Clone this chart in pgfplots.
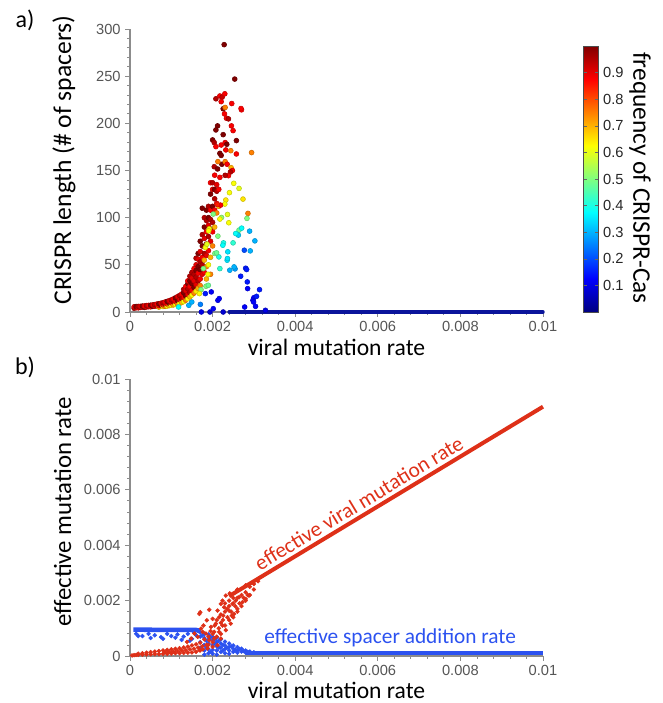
\documentclass[border=0pt]{standalone}
\usepackage{fontspec}
\setmainfont{Carlito}
\newfontfamily\tickfont{Liberation Sans}
\usepackage{pgfplots}
\usepackage{pgfplotstable}
\pgfplotsset{compat=1.18}
\definecolor{tickgrey}{HTML}{555555}
\definecolor{axgrey}{HTML}{8C8C8C}
\definecolor{vred}{RGB}{222,48,24}
\definecolor{sblue}{RGB}{44,82,240}
\definecolor{jetnavy}{RGB}{10,20,155}

% panel a: x, CRISPR length, frequency of CRISPR-Cas
\pgfplotstableread{
x y c
0.00010 4.0 0.95
0.00010 5.5 0.90
0.00015 4.5 0.92
0.00015 5.8 1.00
0.00020 4.4 0.88
0.00020 5.9 0.95
0.00025 4.8 0.95
0.00025 6.0 0.90
0.00030 5.0 0.90
0.00030 6.3 1.00
0.00035 4.9 1.00
0.00035 6.4 0.88
0.00040 5.3 0.90
0.00040 6.8 0.95
0.00045 5.6 0.95
0.00045 7.0 0.88
0.00050 5.5 0.88
0.00050 7.2 1.00
0.00055 6.0 1.00
0.00055 7.5 0.90
0.00060 6.2 0.90
0.00060 7.9 0.95
0.00065 6.5 0.95
0.00065 8.4 0.88
0.00070 5.2 0.70
0.00070 6.7 0.88
0.00070 8.8 1.00
0.00075 7.2 1.00
0.00075 9.3 0.90
0.00080 5.8 0.65
0.00080 7.6 0.90
0.00080 9.8 0.95
0.00085 6.0 0.75
0.00085 8.0 0.95
0.00085 10.6 0.88
0.00090 6.2 0.62
0.00090 8.5 0.88
0.00090 11.2 1.00
0.00095 6.8 0.70
0.00095 9.2 1.00
0.00095 12.0 0.90
0.00100 7.2 0.62
0.00100 9.8 0.90
0.00100 12.8 0.95
0.00105 7.5 0.72
0.00105 10.5 0.95
0.00105 13.8 0.88
0.00110 8.0 0.62
0.00110 11.2 0.88
0.00110 15.0 1.00
0.00115 8.5 0.75
0.00115 12.0 1.00
0.00115 16.2 0.90
0.00120 9.0 0.62
0.00120 13.0 0.90
0.00120 17.5 0.95
0.00125 10.0 0.70
0.00125 14.2 0.95
0.00125 19.0 0.88
0.00130 11.0 0.62
0.00130 15.5 0.88
0.00130 20.5 1.00
0.00130 24.0 0.95
0.00135 12.5 0.75
0.00135 17.0 1.00
0.00135 22.5 0.90
0.00135 27.0 0.88
0.00140 14.0 0.62
0.00140 18.5 0.90
0.00140 24.5 0.95
0.00140 30.0 1.00
0.00140 33.0 0.88
0.00145 16.0 0.70
0.00145 20.5 0.95
0.00145 27.0 0.88
0.00145 33.0 1.00
0.00145 38.0 0.95
0.00150 18.0 0.62
0.00150 23.0 0.88
0.00150 30.0 1.00
0.00150 36.0 0.90
0.00150 42.0 0.95
0.00155 20.0 0.75
0.00155 26.0 1.00
0.00155 33.0 0.90
0.00155 40.0 0.95
0.00155 46.0 0.88
0.00160 22.0 0.65
0.00160 29.0 0.90
0.00160 37.0 0.95
0.00160 44.0 1.00
0.00160 50.0 0.90
0.00160 57.0 0.95
0.00165 25.0 0.70
0.00165 33.0 0.95
0.00165 41.0 0.88
0.00165 48.0 1.00
0.00165 56.0 0.90
0.00165 62.0 1.00
0.00170 28.0 0.75
0.00170 35.0 0.88
0.00170 45.0 1.00
0.00170 53.0 0.95
0.00170 64.0 0.90
0.00170 75.0 1.00
0.00175 40.0 0.90
0.00175 50.0 0.95
0.00175 58.0 0.88
0.00175 70.0 1.00
0.00175 82.0 0.95
0.00175 110.0 1.00
0.00180 42.0 0.88
0.00180 55.0 0.70
0.00180 62.0 0.95
0.00180 78.0 0.90
0.00180 90.0 1.00
0.00180 100.0 0.95
0.00185 35.0 0.70
0.00185 48.0 0.75
0.00185 60.0 0.90
0.00185 72.0 1.00
0.00185 85.0 0.88
0.00185 97.0 0.95
0.00185 108.0 1.00
0.00190 50.0 0.62
0.00190 65.0 0.88
0.00190 80.0 0.95
0.00190 92.0 0.90
0.00190 100.0 1.00
0.00190 112.0 0.95
0.00195 40.0 0.75
0.00195 58.0 0.70
0.00195 75.0 0.90
0.00195 88.0 1.00
0.00195 98.0 0.95
0.00195 108.0 0.88
0.00195 125.0 1.00
0.00195 137.0 0.88
0.00200 70.0 0.75
0.00200 85.0 0.88
0.00200 95.0 0.95
0.00200 112.0 1.00
0.00200 130.0 0.90
0.00200 137.0 0.95
0.00205 90.0 0.70
0.00205 108.0 0.88
0.00205 120.0 0.95
0.00205 130.0 1.00
0.00205 145.0 0.88
0.00210 105.0 0.75
0.00210 115.0 0.88
0.00210 128.0 0.95
0.00210 135.0 0.90
0.00215 112.0 0.70
0.00215 130.0 0.88
0.002280 283.4 1.00
0.002536 246.9 1.00
0.002080 226.0 0.95
0.002176 229.0 0.88
0.002232 227.8 0.93
0.002296 231.3 0.88
0.002208 223.0 0.88
0.002256 215.4 1.00
0.002304 216.8 0.75
0.002464 221.0 0.88
0.002700 214.3 0.88
0.002688 215.7 0.88
0.002288 210.0 0.88
0.002336 205.4 0.88
0.002384 204.7 0.95
0.002120 197.3 1.00
0.002080 193.0 1.00
0.002456 197.3 0.88
0.002496 192.3 0.88
0.002576 181.7 1.00
0.002000 182.4 1.00
0.002040 179.6 0.95
0.002080 175.3 0.88
0.002256 188.0 1.00
0.002208 177.0 0.88
0.002304 179.6 0.88
0.002344 177.8 1.00
0.002320 171.8 0.88
0.002176 168.2 1.00
0.002208 166.0 1.00
0.002440 171.0 0.75
0.002576 167.5 0.88
0.002224 156.6 1.00
0.002128 159.4 0.75
0.002040 154.0 0.95
0.002120 151.6 1.00
0.002304 159.4 0.75
0.002352 156.6 0.88
0.002448 153.0 0.70
0.002480 150.0 0.88
0.002432 148.4 0.95
0.002384 144.5 0.88
0.002176 142.7 0.88
0.002304 144.9 0.95
0.002944 169.0 0.75
0.002512 136.4 0.62
0.002640 131.0 0.60
0.002408 126.5 0.62
0.002320 118.7 0.65
0.002296 114.4 0.62
0.002192 113.3 0.88
0.002112 114.0 0.85
0.002736 119.7 0.65
0.002856 104.5 0.75
0.002832 99.2 0.50
0.002640 86.8 0.48
0.002704 88.9 0.38
0.002624 81.5 0.33
0.002896 85.7 0.30
0.003024 75.4 0.30
0.002912 64.8 0.30
0.002768 65.5 0.20
0.002560 83.2 0.38
0.002800 46.4 0.15
0.002824 45.0 0.15
0.002680 37.9 0.15
0.002840 31.9 0.15
0.002848 24.8 0.12
0.003136 23.7 0.15
0.003000 15.2 0.12
0.003064 16.6 0.15
0.002976 12.4 0.12
0.002992 10.6 0.12
0.003040 6.0 0.12
0.002776 5.3 0.12
0.002256 0.0 0.08
0.001728 0.0 0.10
0.001936 0.0 0.08
0.002016 3.5 0.12
0.002128 12.4 0.12
0.002160 14.2 0.12
0.001968 21.3 0.12
0.001824 19.5 0.15
0.001704 8.1 0.25
0.001424 7.1 0.30
0.001496 10.6 0.30
0.001176 5.3 0.38
0.003280 1.8 0.10
0.002352 54.9 0.35
0.002360 56.7 0.35
0.002416 44.3 0.30
0.002544 45.7 0.28
0.002520 47.8 0.30
0.002368 63.8 0.35
0.002176 46.0 0.42
0.002152 58.4 0.40
0.002056 62.0 0.50
0.002096 62.7 0.48
0.002264 73.3 0.40
0.002248 70.8 0.38
0.002496 73.3 0.42
0.002128 80.4 0.50
0.002392 94.6 0.62
0.002360 103.4 0.60
0.002216 100.2 0.52
0.002176 98.5 0.62
0.002016 103.8 0.50
0.001920 88.2 0.62
0.001904 86.0 0.62
0.001824 68.4 0.62
0.001864 71.9 0.60
0.001776 46.0 0.50
0.001888 40.0 0.62
0.001840 27.3 0.50
0.001896 28.3 0.48
0.001720 23.7 0.50
0.001680 19.5 0.62
}\dataA

% panel b: blue = effective spacer addition rate (scattered part)
\pgfplotstableread{
x y
0.00015 0.00080
0.00020 0.00072
0.00030 0.00072
0.00045 0.00080
0.00050 0.00065
0.00060 0.00075
0.00075 0.00068
0.00080 0.00062
0.00090 0.00080
0.00100 0.00072
0.00110 0.00066
0.00115 0.00078
0.00125 0.00058
0.00130 0.00070
0.00140 0.00080
0.00145 0.00055
0.00150 0.00062
0.00155 0.00085
0.00160 0.00075
0.00165 0.00090
0.00170 0.00085
0.00170 0.00070
0.00170 0.00050
0.00170 0.00030
0.00175 0.00075
0.00180 0.00080
0.00180 0.00065
0.00180 0.00040
0.00180 0.00020
0.00180 0.00005
0.00185 0.00055
0.00185 0.00030
0.00190 0.00078
0.00190 0.00060
0.00190 0.00045
0.00190 0.00025
0.00190 0.00010
0.00195 0.00068
0.00195 0.00015
0.00200 0.00070
0.00200 0.00058
0.00200 0.00040
0.00200 0.00022
0.00200 0.00008
0.00205 0.00045
0.00205 0.00060
0.00210 0.00066
0.00210 0.00050
0.00210 0.00035
0.00210 0.00020
0.00210 0.00005
0.00215 0.00055
0.00215 0.00030
0.00220 0.00060
0.00220 0.00045
0.00220 0.00030
0.00220 0.00015
0.00225 0.00040
0.00225 0.00020
0.00230 0.00052
0.00230 0.00038
0.00230 0.00025
0.00230 0.00010
0.00235 0.00030
0.00240 0.00045
0.00240 0.00032
0.00240 0.00020
0.00240 0.00008
0.00245 0.00035
0.00250 0.00038
0.00250 0.00026
0.00250 0.00015
0.00255 0.00022
0.00260 0.00032
0.00260 0.00020
0.00260 0.00012
0.00265 0.00025
0.00270 0.00026
0.00270 0.00016
0.00275 0.00018
0.00280 0.00020
0.00280 0.00012
0.00285 0.00015
0.00290 0.00016
0.00300 0.00013
}\blueB

% panel b: red = effective viral mutation rate (scattered part)
\pgfplotstableread{
x y
0.00005 0.00002
0.00010 0.00003
0.00015 0.00004
0.00020 0.00004
0.00020 0.00008
0.00030 0.00005
0.00030 0.00010
0.00040 0.00006
0.00040 0.00012
0.00050 0.00006
0.00050 0.00014
0.00060 0.00007
0.00060 0.00016
0.00070 0.00007
0.00070 0.00018
0.00080 0.00008
0.00080 0.00020
0.00085 0.00014
0.00090 0.00008
0.00090 0.00022
0.00095 0.00015
0.00100 0.00009
0.00100 0.00024
0.00105 0.00016
0.00110 0.00010
0.00110 0.00026
0.00115 0.00018
0.00120 0.00010
0.00120 0.00028
0.00125 0.00020
0.00130 0.00011
0.00130 0.00031
0.00135 0.00021
0.00140 0.00012
0.00140 0.00034
0.00145 0.00024
0.00150 0.00013
0.00150 0.00038
0.00155 0.00026
0.00160 0.00015
0.00160 0.00042
0.00165 0.00030
0.00170 0.00020
0.00170 0.00048
0.00168 0.00152
0.00170 0.00158
0.00192 0.00167
0.00186 0.00129
0.00178 0.00110
0.00172 0.00099
0.00148 0.00063
0.00138 0.00051
0.00156 0.00081
0.00164 0.00069
0.00176 0.00087
0.00184 0.00081
0.00196 0.00105
0.00200 0.00134
0.00208 0.00117
0.00204 0.00087
0.00212 0.00164
0.00220 0.00188
0.00224 0.00200
0.00228 0.00176
0.00216 0.00140
0.002256 0.00146
0.00232 0.00218
0.002416 0.00226
0.00236 0.00140
0.00240 0.00164
0.00248 0.00188
0.00256 0.00200
0.00264 0.00212
0.00244 0.00117
0.00252 0.00152
0.00260 0.00170
0.00272 0.00194
0.00280 0.00206
0.00288 0.00218
0.00232 0.00093
0.00220 0.00063
0.00212 0.00039
0.00200 0.00033
0.00188 0.00027
0.00176 0.00024
0.00168 0.00021
0.00192 0.00057
0.00204 0.00063
0.00216 0.00087
0.00224 0.00110
0.002464 0.00146
0.00175 0.00035
0.00180 0.00060
0.00185 0.00040
0.00190 0.00070
0.00190 0.00040
0.00195 0.00090
0.00200 0.00050
0.00200 0.00080
0.00205 0.00110
0.00210 0.00070
0.00210 0.00130
0.00215 0.00100
0.00220 0.00080
0.00220 0.00120
0.00220 0.00150
0.00225 0.00130
0.00230 0.00110
0.00230 0.00160
0.00230 0.00190
0.00235 0.00170
0.00240 0.00130
0.00240 0.00180
0.00240 0.00200
0.00245 0.00160
0.00250 0.00140
0.00250 0.00190
0.00250 0.00210
0.00255 0.00180
0.00260 0.00160
0.00260 0.00210
0.00265 0.00190
0.00270 0.00180
0.00270 0.00220
0.00275 0.00210
0.00280 0.00200
0.00280 0.00230
0.00285 0.00220
0.00290 0.00220
0.00290 0.00250
0.00300 0.00240
0.00300 0.00260
0.00310 0.00270
0.00260 0.00240
0.00280 0.00255
}\redB

\pgfplotsset{
  panel/.style={
    scale only axis, width=309.75pt,
    axis x line*=bottom, axis y line*=left,
    axis line style={axgrey, line width=0.8pt},
    tick style={axgrey, line width=0.6pt},
    tick align=outside,
    major tick length=3.5pt, minor tick length=2pt,
    minor x tick num=4, minor y tick num=4,
    tick label style={font=\tickfont\fontsize{11}{13}\selectfont, text=tickgrey},
    xlabel style={font=\fontsize{17.7}{21}\selectfont},
    ylabel style={font=\fontsize{18.6}{22}\selectfont},
    xmin=0, xmax=0.01, scaled ticks=false,
    xtick={0,0.002,0.004,0.006,0.008,0.01},
    xticklabels={0,0.002,0.004,0.006,0.008,0.01},
    xlabel={viral mutation rate},
    clip=false,
  }
}

\begin{document}
\begin{tikzpicture}
\useasboundingbox (0pt,0pt) rectangle (497.25pt,527.25pt);

% ---- a) ----
\begin{axis}[panel,
  at={(97.5pt,293.25pt)}, anchor=south west, height=212.25pt,
  ymin=0, ymax=300,
  ytick={0,50,100,150,200,250,300},
  yticklabels={0,50,100,150,200,250,300},
  ylabel={CRISPR length (\# of spacers)},
  ylabel style={at={(axis description cs:-0.16,0.537)}, anchor=center, font=\fontsize{19.2}{23}\selectfont},
  xlabel style={at={(axis description cs:0.5,-0.124)}, anchor=center},
  colormap/jet, point meta min=0, point meta max=1,
  colorbar,
  colorbar style={
    at={(parent axis.south east)}, anchor=south west, xshift=21.75pt,
    scale only axis, width=11.25pt, height=199.5pt,
    ytick={0.1,0.2,0.3,0.4,0.5,0.6,0.7,0.8,0.9},
    yticklabels={0.1,0.2,0.3,0.4,0.5,0.6,0.7,0.8,0.9},
    yticklabel pos=right, tick align=inside, major tick length=2.5pt,
    tick style={black!60},
    axis line style={black!70, line width=0.4pt},
    yticklabel style={font=\tickfont\fontsize{11}{13}\selectfont, text=black!85},
  },
]
\addplot[jetnavy, line width=2.6pt, line cap=round] coordinates {(0.0024,0) (0.01,0)};
\addplot[scatter, only marks, scatter src=explicit, mark=*, mark size=1.85pt]
  table[x=x, y=y, meta=c] {\dataA};
\end{axis}

% ---- b) ----
\begin{axis}[panel,
  at={(97.5pt,35.25pt)}, anchor=south west, height=207.75pt,
  ymin=0, ymax=0.01,
  ytick={0,0.002,0.004,0.006,0.008,0.01},
  yticklabels={0,0.002,0.004,0.006,0.008,0.01},
  ylabel={effective mutation rate},
  ylabel style={at={(axis description cs:-0.163,0.52)}, anchor=center},
  xlabel style={at={(axis description cs:0.5,-0.123)}, anchor=center},
]
\addplot[sblue, line width=3.4pt] coordinates {(0.00008,0.00095) (0.0016,0.00094) (0.00172,0.0009)};
\addplot[sblue, line width=3.2pt] coordinates {(0.0028,0.00012) (0.01,0.00012)};
\addplot[only marks, mark=*, mark size=1.45pt, sblue] table[x=x, y=y] {\blueB};
\addplot[vred, line width=3pt] coordinates {(0.0024,0.00216) (0.01,0.009)};
\addplot[only marks, mark=*, mark size=1.45pt, vred] table[x=x, y=y] {\redB};
\node[rotate=31.1, text=vred, font=\fontsize{16}{19}\selectfont]
  at (axis cs:0.00554,0.00552) {effective viral mutation rate};
\node[text=sblue, font=\fontsize{16}{19}\selectfont]
  at (axis cs:0.0063,0.00065) {effective spacer addition rate};
\end{axis}

\node[font=\fontsize{18}{21}\selectfont] at (18.75pt,512.25pt) {a)};
\node[font=\fontsize{18}{21}\selectfont] at (18.75pt,252pt) {b)};
\node[rotate=-90, font=\fontsize{19}{22}\selectfont] at (480pt,393.75pt) {frequency of CRISPR-Cas};
\end{tikzpicture}
\end{document}
